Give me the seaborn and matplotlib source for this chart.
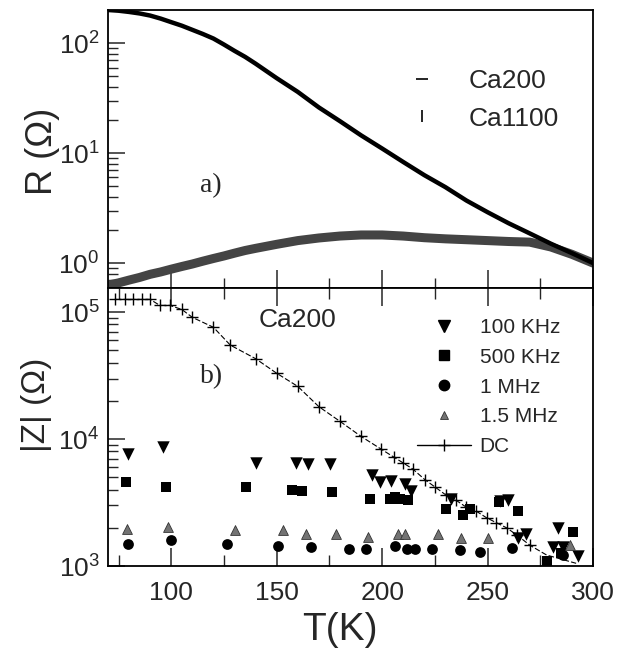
import numpy as np
import pandas as pd
import matplotlib
matplotlib.use("Agg")
import matplotlib.pyplot as plt
from matplotlib.lines import Line2D
from matplotlib.ticker import LogLocator, MultipleLocator, NullFormatter
import seaborn as sns

# ---- panel a) R(T) ----
T_a = [70, 75, 80, 85, 90, 95, 100, 105, 110, 115, 120, 125, 130, 135, 140, 150,
       160, 170, 180, 190, 200, 210, 220, 230, 240, 250, 260, 270, 280, 290, 300]
R_ca200 = [200, 197, 192, 186, 178, 167, 155, 144, 132, 121, 110, 97, 85, 75, 65, 48,
           36, 26, 19.5, 14.5, 11, 8.3, 6.3, 4.9, 3.7, 2.9, 2.3, 1.86, 1.5, 1.23, 1.0]
R_ca1100 = [0.63, 0.66, 0.70, 0.74, 0.79, 0.83, 0.88, 0.93, 0.98, 1.04, 1.10, 1.16,
            1.23, 1.30, 1.36, 1.48, 1.60, 1.69, 1.76, 1.80, 1.80, 1.76, 1.70, 1.66,
            1.63, 1.60, 1.57, 1.55, 1.40, 1.20, 1.0]

# ---- panel b) |Z|(T) ----
T_dc = [73.3, 78, 82, 86, 90, 94.6, 99.4, 105, 110, 120, 128, 140, 150, 160, 170,
        180, 190, 199.7, 205.6, 209.9, 214.6, 220.2, 225, 230.5, 235, 240, 244.7,
        249.5, 254, 259, 264, 270, 278, 292]
Z_dc = [1.26e5, 1.26e5, 1.26e5, 1.26e5, 1.26e5, 1.13e5, 1.13e5, 1.05e5, 9.1e4, 7.6e4,
        5.5e4, 4.3e4, 3.3e4, 2.6e4, 1.8e4, 1.38e4, 1.05e4, 8.3e3, 7.2e3, 6.5e3, 5.8e3,
        4.8e3, 4.2e3, 3.6e3, 3.3e3, 2.9e3, 2.7e3, 2.4e3, 2.2e3, 2.0e3, 1.75e3, 1.46e3,
        1.22e3, 1.05e3]
dc_marked = 32  # '+' symbols only on the first points

T_100k = [79.3, 96.2, 140.1, 159.1, 165, 175.2, 195, 198.9, 204, 210.7, 213.9,
          232.8, 255.8, 259.7, 264.5, 268.4, 281, 283.4, 285.8, 292.9]
Z_100k = [7.6e3, 8.6e3, 6.5e3, 6.5e3, 6.4e3, 6.4e3, 5.2e3, 4.6e3, 4.7e3, 4.4e3, 3.9e3,
          3.4e3, 3.24e3, 3.3e3, 1.67e3, 1.8e3, 1.42e3, 2.0e3, 1.42e3, 1.2e3]

T_500k = [78.5, 97.3, 135.3, 157.1, 162.1, 176.3, 194.2, 203.6, 206, 208.4, 212.3,
          230.5, 238.4, 241.6, 255.4, 264.4, 278, 285, 290.5]
Z_500k = [4.6e3, 4.2e3, 4.2e3, 4.0e3, 3.9e3, 3.85e3, 3.4e3, 3.4e3, 3.5e3, 3.4e3, 3.3e3,
          2.8e3, 2.5e3, 2.8e3, 3.2e3, 2.7e3, 1.1e3, 1.26e3, 1.85e3]

T_1m = [79.3, 99.7, 126.2, 150.4, 166.2, 184.3, 192.5, 206.3, 211.8, 215.8, 223.7,
        237.1, 246.6, 261.6, 285.8]
Z_1m = [1.49e3, 1.6e3, 1.5e3, 1.44e3, 1.4e3, 1.37e3, 1.35e3, 1.43e3, 1.35e3, 1.35e3,
        1.36e3, 1.33e3, 1.29e3, 1.39e3, 1.22e3]

T_15m = [78.8, 98.6, 130.2, 153.1, 164.1, 178.3, 193.3, 207.6, 210.7, 226.5, 237.6,
         250.2, 289]
Z_15m = [1.97e3, 2.03e3, 1.91e3, 1.91e3, 1.78e3, 1.78e3, 1.7e3, 1.78e3, 1.78e3, 1.78e3,
         1.65e3, 1.65e3, 1.46e3]

sns.set_style("white")
plt.rcParams['font.family'] = ['Liberation Sans', 'DejaVu Sans']
plt.rcParams['mathtext.fontset'] = 'custom'
plt.rcParams['mathtext.rm'] = 'Liberation Sans'
plt.rcParams['mathtext.it'] = 'Liberation Sans:italic'
plt.rcParams['mathtext.bf'] = 'Liberation Sans:bold'

fig = plt.figure(figsize=(6.3, 6.58), dpi=100)
L, W = 108 / 630, 485 / 630
ax1 = fig.add_axes([L, 1 - 288 / 658, W, 278 / 658])
ax2 = fig.add_axes([L, 1 - 566 / 658, W, 278 / 658])

df_a = pd.DataFrame({'T': T_a + T_a,
                     'R': R_ca200 + R_ca1100,
                     'sample': ['Ca200'] * len(T_a) + ['Ca1100'] * len(T_a)})
sns.lineplot(data=df_a[df_a['sample'] == 'Ca1100'], x='T', y='R', ax=ax1,
             color='#444444', lw=6.5, legend=False)
sns.lineplot(data=df_a[df_a['sample'] == 'Ca200'], x='T', y='R', ax=ax1,
             color='black', lw=3.2, legend=False)
ax1.set_yscale('log')
ax1.set_xlim(70, 300)
ax1.set_ylim(0.593, 200)

# panel b
sns.lineplot(x=T_dc, y=Z_dc, ax=ax2, color='black', lw=0.8,
             linestyle=(0, (5, 2)), legend=False)
ax2.plot(T_dc[:dc_marked], Z_dc[:dc_marked], ls='none', marker='+', ms=9,
         mew=1.0, color='black')
sns.scatterplot(x=T_100k, y=Z_100k, ax=ax2, marker='v', s=80, color='black',
                edgecolor='black', linewidth=0)
sns.scatterplot(x=T_500k, y=Z_500k, ax=ax2, marker='s', s=55, color='black',
                edgecolor='black', linewidth=0)
sns.scatterplot(x=T_1m, y=Z_1m, ax=ax2, marker='o', s=60, color='black',
                edgecolor='black', linewidth=0)
sns.scatterplot(x=T_15m, y=Z_15m, ax=ax2, marker='^', s=50, color='0.45',
                edgecolor='0.2', linewidth=0.6)
ax2.set_yscale('log')
ax2.set_xlim(70, 300)
ax2.set_ylim(1e3, 1.55e5)

for ax in (ax1, ax2):
    for s in ax.spines.values():
        s.set_linewidth(1.3)
        s.set_color('black')
    ax.xaxis.set_major_locator(MultipleLocator(50))
    ax.xaxis.set_minor_locator(MultipleLocator(25))
    ax.yaxis.set_major_locator(LogLocator(base=10))
    ax.yaxis.set_minor_locator(LogLocator(base=10, subs=np.arange(2, 10)))
    ax.yaxis.set_minor_formatter(NullFormatter())
    ax.tick_params(axis='y', which='major', direction='in', length=12, width=1.1,
                   labelsize=19, pad=6, right=False, left=True)
    ax.tick_params(axis='y', which='minor', direction='in', length=7, width=1.0,
                   right=False, left=True)
    ax.set_xlabel('')
    ax.set_ylabel('')

ax1.tick_params(axis='x', which='major', direction='in', length=13, width=1.1,
                labelbottom=False, top=False, bottom=True)
ax1.tick_params(axis='x', which='minor', direction='in', length=7, width=1.0,
                top=False, bottom=True)
ax2.tick_params(axis='x', which='major', direction='in', length=13, width=1.1,
                labelsize=19, pad=11, top=True, bottom=True)
ax2.tick_params(axis='x', which='minor', direction='in', length=8, width=1.0,
                top=True, bottom=True)

ax1.set_ylabel('R (Ω)', fontsize=26)
ax1.yaxis.set_label_coords(-0.10, 0.49)
ax2.set_ylabel('|Z| (Ω)', fontsize=24)
ax2.yaxis.set_label_coords(-0.115, 0.58)
ax2.set_xlabel('T(K)', fontsize=28)
ax2.xaxis.set_label_coords(0.478, -0.165)

ax1.text(0.19, 0.37, 'a)', transform=ax1.transAxes, fontsize=20,
         family='Liberation Serif', va='center', ha='left')
ax2.text(0.19, 0.68, 'b)', transform=ax2.transAxes, fontsize=20,
         family='Liberation Serif', va='center', ha='left')
ax2.text(0.31, 0.885, 'Ca200', transform=ax2.transAxes, fontsize=19,
         va='center', ha='left')

h_a = [Line2D([], [], ls='none', marker='_', ms=8, mew=1.2, color='black'),
       Line2D([], [], ls='none', marker='|', ms=8, mew=1.2, color='black')]
ax1.legend(h_a, ['Ca200', 'Ca1100'], loc='upper left', bbox_to_anchor=(0.58, 0.836),
           frameon=False, fontsize=19, handlelength=1.5, handletextpad=1.0,
           labelspacing=0.52, borderpad=0)

h_b = [Line2D([], [], ls='none', marker='v', ms=9, color='black'),
       Line2D([], [], ls='none', marker='s', ms=7, color='black'),
       Line2D([], [], ls='none', marker='o', ms=7.5, color='black'),
       Line2D([], [], ls='none', marker='^', ms=6, color='0.45', mec='0.2', mew=0.6),
       Line2D([], [], ls='-', lw=1.0, marker='+', ms=8, color='black')]
ax2.legend(h_b, ['100 KHz', '500 KHz', '1 MHz', '1.5 MHz', 'DC'], loc='upper left',
           bbox_to_anchor=(0.616, 0.93), frameon=False, fontsize=15,
           handlelength=2.6, handletextpad=0.4, labelspacing=0.52, borderpad=0)

fig.savefig('out.png', dpi=100)
